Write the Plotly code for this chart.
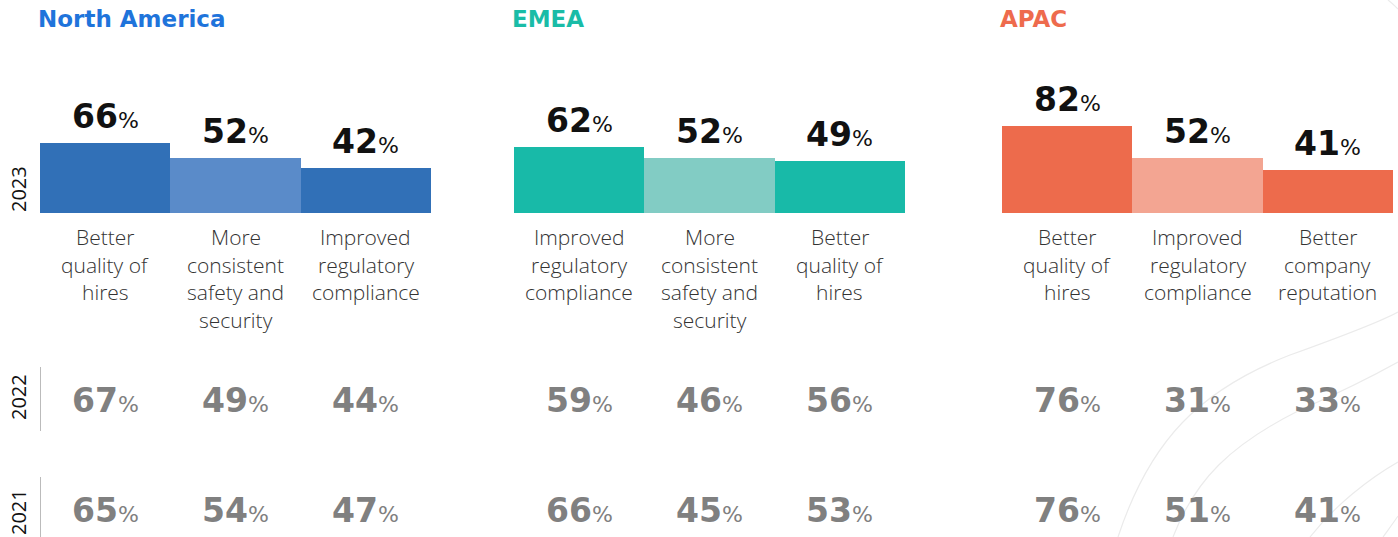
import plotly.graph_objects as go

# data
regions = ["North America", "EMEA", "APAC"]
years = ["2023", "2022", "2021"]

na_labels = ["Better<br>quality of<br>hires", "More<br>consistent<br>safety and<br>security",
             "Improved<br>regulatory<br>compliance"]
emea_labels = ["Improved<br>regulatory<br>compliance", "More<br>consistent<br>safety and<br>security",
               "Better<br>quality of<br>hires"]
apac_labels = ["Better<br>quality of<br>hires", "Improved<br>regulatory<br>compliance",
               "Better<br>company<br>reputation"]

na_2023 = [66, 52, 42]
na_2022 = [67, 49, 44]
na_2021 = [65, 54, 47]
emea_2023 = [62, 52, 49]
emea_2022 = [59, 46, 56]
emea_2021 = [66, 45, 53]
apac_2023 = [82, 52, 41]
apac_2022 = [76, 31, 33]
apac_2021 = [76, 51, 41]

title_colors = ["#1F74DB", "#1ABCA7", "#EE6B4D"]
bar_colors = [["#3170B7", "#5A8BC9", "#3170B7"],
              ["#18BAA8", "#82CCC4", "#18BAA8"],
              ["#ED6B4C", "#F3A592", "#ED6B4C"]]

W, H = 1398, 537


def px(p):
    # screen column -> paper x
    return p / W


def py(p):
    # screen row -> paper y
    return 1 - p / H


panels = [
    (na_labels, na_2023, na_2022, na_2021),
    (emea_labels, emea_2023, emea_2022, emea_2021),
    (apac_labels, apac_2023, apac_2022, apac_2021),
]
x_domains = [(40, 431), (514, 905), (1002, 1393)]

BOLD = "DejaVu Sans"
LIGHT = "Open Sans"

fig = go.Figure()
annotations = []
shapes = []

for i, (labels, v23, v22, v21) in enumerate(panels):
    xa = "x" if i == 0 else f"x{i + 1}"
    cats = [l.replace("<br>", " ") for l in labels]
    fig.add_trace(go.Bar(
        x=cats, y=v23, xaxis=xa, yaxis="y",
        marker=dict(color=bar_colors[i], line=dict(width=0)),
        hoverinfo="skip", showlegend=False,
    ))
    # region title
    annotations.append(dict(
        text=f"<b>{regions[i]}</b>", xref="paper", yref="paper",
        x=px(x_domains[i][0] - 4), y=py(19), xanchor="left", yanchor="middle",
        showarrow=False, font=dict(family=BOLD, size=23, color=title_colors[i]),
    ))
    for c, lab, a, b, d in zip(cats, labels, v23, v22, v21):
        # 2023 value above the bar
        annotations.append(dict(
            text=f"<b>{a}</b><span style='font-size:22px'>%</span>",
            xref=xa, yref="y", x=c, y=a, xanchor="center", yanchor="bottom",
            yshift=5, showarrow=False,
            font=dict(family=BOLD, size=33, color="#111111"),
        ))
        # category label lines
        for k, line in enumerate(lab.split("<br>")):
            annotations.append(dict(
                text=line, xref=xa, yref="paper", x=c, y=py(237 + k * 27.5),
                xanchor="center", yanchor="middle", showarrow=False,
                font=dict(family=LIGHT, size=21, color="#333333", weight=300),
            ))
        # previous years
        for val, yy in ((b, 400), (d, 510)):
            annotations.append(dict(
                text=f"<b>{val}</b><span style='font-size:22px'>%</span>",
                xref=xa, yref="paper", x=c, y=py(yy),
                xanchor="center", yanchor="middle", showarrow=False,
                font=dict(family=BOLD, size=33, color="#808080"),
            ))

# year labels on the left
for yr, yc in zip(years, (189, 397, 512)):
    annotations.append(dict(
        text=yr, xref="paper", yref="paper", x=px(18), y=py(yc),
        xanchor="center", yanchor="middle", textangle=-90, showarrow=False,
        font=dict(family=LIGHT, size=20, color="#111111"),
    ))

# thin separators next to 2022 / 2021
for y0, y1 in ((367, 431), (477, 537)):
    shapes.append(dict(type="line", xref="paper", yref="paper",
                       x0=px(40.5), x1=px(40.5), y0=py(y0), y1=py(y1),
                       line=dict(color="#BBBBBB", width=1)))


# faint decorative curves, bottom right
def curve(pts):
    s = f"M {px(pts[0][0])},{py(pts[0][1])}"
    for j in range(1, len(pts), 3):
        a, b, c = pts[j:j + 3]
        s += f" C {px(a[0])},{py(a[1])} {px(b[0])},{py(b[1])} {px(c[0])},{py(c[1])}"
    return s


deco = [
    [(1118, 537), (1150, 440), (1200, 390), (1290, 355), (1340, 337), (1380, 322), (1398, 312)],
    [(1173, 537), (1195, 480), (1230, 445), (1300, 410), (1350, 388), (1380, 372), (1398, 362)],
    [(1310, 537), (1335, 505), (1370, 478), (1398, 462)],
    [(1383, 537), (1388, 530), (1394, 522), (1398, 516)],
    [(1388, 0), (1392, 3), (1395, 6), (1398, 9)],
]
for d in deco:
    shapes.append(dict(type="path", xref="paper", yref="paper", path=curve(d),
                       line=dict(color="#EBEBEB", width=1.2), layer="below"))

layout_axes = {}
for i, (x0, x1) in enumerate(x_domains):
    key = "xaxis" if i == 0 else f"xaxis{i + 1}"
    layout_axes[key] = dict(domain=[px(x0), px(x1)], anchor="y", range=[-0.5, 2.5],
                            showticklabels=False, showgrid=False, zeroline=False,
                            showline=False, fixedrange=True)

fig.update_layout(
    width=W, height=H,
    margin=dict(l=0, r=0, t=0, b=0),
    paper_bgcolor="white", plot_bgcolor="rgba(0,0,0,0)",
    bargap=0,
    yaxis=dict(domain=[py(213), py(107)], range=[0, 100], showticklabels=False,
               showgrid=False, zeroline=False, showline=False, fixedrange=True),
    annotations=annotations, shapes=shapes,
    **layout_axes,
)

# drop the default page margin so the figure fills the window
fig.write_html("out.html", config={"displayModeBar": False},
               post_script="document.body.style.margin='0';")
